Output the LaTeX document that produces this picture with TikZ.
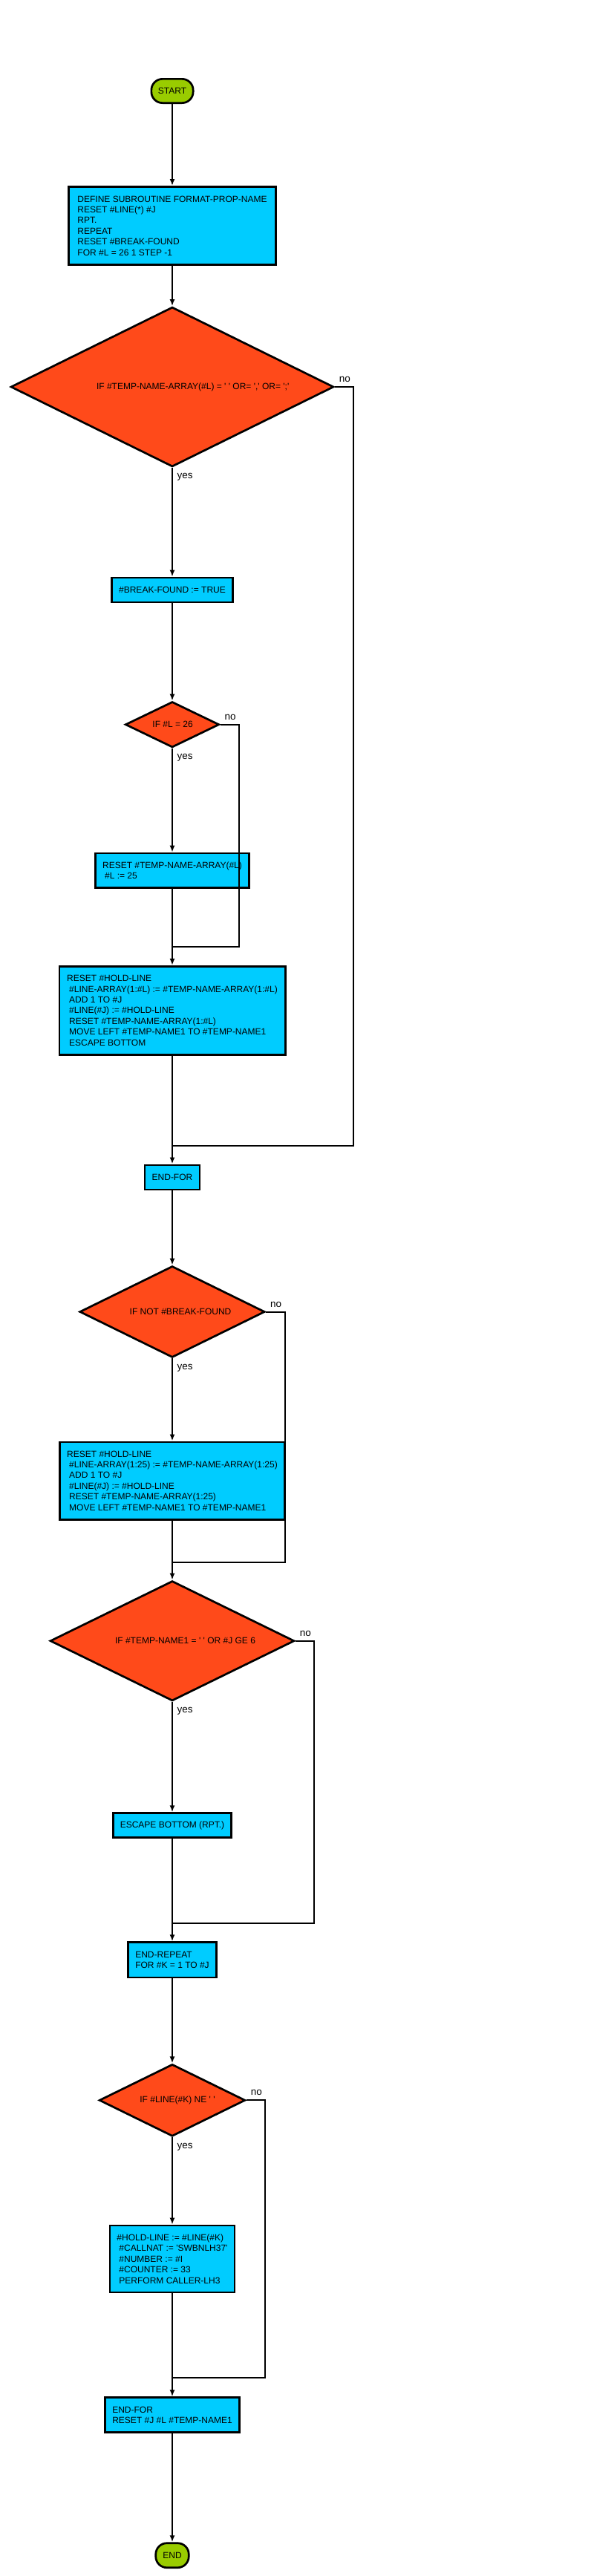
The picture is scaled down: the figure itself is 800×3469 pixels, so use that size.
\documentclass[tikz,border=0pt]{standalone}
\usepackage{fontspec}
\setmainfont{Liberation Sans}
\usepackage{tikz}
\usetikzlibrary{positioning}
\usetikzlibrary{shapes}
\usetikzlibrary{arrows.meta}

\definecolor{termgreen}{HTML}{99CC00}
\definecolor{boxcyan}{HTML}{00CCFF}
\definecolor{testred}{HTML}{FF4A1A}

\tikzstyle{line} = [draw, line width=2pt, -{Latex[length=9pt,width=7pt]}]
\tikzstyle{wire} = [draw, line width=2pt]
\tikzstyle{term} = [rectangle, rounded corners=15pt, draw, line width=2.7pt, fill=termgreen, inner sep=0pt]
\tikzstyle{stepbox} = [rectangle, draw, line width=2.7pt, fill=boxcyan, align=left, inner xsep=9.5pt, inner ysep=2pt]
\tikzstyle{test} = [diamond, draw, line width=2.7pt, fill=testred, inner sep=0pt]
\tikzstyle{dtext} = [inner sep=0pt]
\tikzstyle{yeslab} = [anchor=base west, inner sep=0pt, xshift=5.5pt, yshift=-15pt, font=\fontsize{13.5pt}{16pt}\selectfont]
\tikzstyle{nolab} = [anchor=base west, inner sep=0pt, xshift=5pt, yshift=6.5pt, font=\fontsize{13.5pt}{16pt}\selectfont]

\newcommand{\tq}{\textquotesingle}
\newcommand{\indsp}{\hspace*{3pt}}

\begin{document}
\begin{tikzpicture}[x=1pt, y=-1pt, font=\fontsize{12pt}{14.4pt}\selectfont]

	\path[use as bounding box, fill=white] (0,0) rectangle (800,3469);

	\def\cx{232}
	\def\gap{25.5}

	% nodes, top to bottom
	\node[term, minimum width=56.3pt, minimum height=32.3pt] (start) at (\cx,122.5) {START};
	\node[stepbox, minimum width=279.3pt, minimum height=105pt] (defsub) at (\cx,303.9)
		{DEFINE SUBROUTINE FORMAT-PROP-NAME\\RESET \#LINE(*) \#J\\RPT.\\REPEAT\\RESET \#BREAK-FOUND\\FOR \#L = 26 1 STEP -1};
	\node[test, minimum width=435pt, minimum height=215pt,
		label={[dtext,xshift=27.7pt]center:{IF \#TEMP-NAME-ARRAY(\#L) = \tq\ \tq\ OR= \tq,\tq\ OR= \tq;\tq}}] (d1) at (\cx,521) {};
	\node[stepbox, minimum width=163pt, minimum height=33pt] (bf) at (\cx,794.5) {\#BREAK-FOUND := TRUE};
	\node[test, minimum width=126.5pt, minimum height=61.5pt,
		label={[dtext,xshift=0.6pt]center:{IF \#L = 26}}] (d2) at (\cx,975.7) {};
	\node[stepbox, minimum width=207pt, minimum height=46.3pt] (tna) at (\cx,1172.2)
		{RESET \#TEMP-NAME-ARRAY(\#L)\\\indsp\#L := 25};
	\node[stepbox, minimum width=304.3pt, minimum height=119pt] (hold1) at (\cx,1360.8)
		{RESET \#HOLD-LINE\\\indsp\#LINE-ARRAY(1:\#L) := \#TEMP-NAME-ARRAY(1:\#L)\\\indsp ADD 1 TO \#J\\\indsp\#LINE(\#J) := \#HOLD-LINE\\\indsp RESET \#TEMP-NAME-ARRAY(1:\#L)\\\indsp MOVE LEFT \#TEMP-NAME1 TO \#TEMP-NAME1\\\indsp ESCAPE BOTTOM};
	\node[stepbox, minimum width=73.8pt, minimum height=33.1pt] (endfor1) at (\cx,1585.4) {END-FOR};
	\node[test, minimum width=249.5pt, minimum height=123pt,
		label={[dtext,xshift=11pt]center:{IF NOT \#BREAK-FOUND}}] (d3) at (\cx,1766.5) {};
	\node[stepbox, minimum width=303.3pt, minimum height=104.3pt] (hold2) at (\cx,1994)
		{RESET \#HOLD-LINE\\\indsp\#LINE-ARRAY(1:25) := \#TEMP-NAME-ARRAY(1:25)\\\indsp ADD 1 TO \#J\\\indsp\#LINE(\#J) := \#HOLD-LINE\\\indsp RESET \#TEMP-NAME-ARRAY(1:25)\\\indsp MOVE LEFT \#TEMP-NAME1 TO \#TEMP-NAME1};
	\node[test, minimum width=329pt, minimum height=161.5pt,
		label={[dtext,xshift=17.5pt]center:{IF \#TEMP-NAME1 = \tq\ \tq\ OR \#J GE 6}}] (d4) at (\cx,2209.7) {};
	\node[stepbox, minimum width=159.3pt, minimum height=33pt] (esc) at (\cx,2458.2) {ESCAPE BOTTOM (RPT.)};
	\node[stepbox, minimum width=119pt, minimum height=47.3pt] (endrep) at (\cx,2639.3)
		{END-REPEAT\\FOR \#K = 1 TO \#J};
	\node[test, minimum width=196.8pt, minimum height=97pt,
		label={[dtext,xshift=7pt]center:{IF \#LINE(\#K) NE \tq\ \tq}}] (d5) at (\cx,2828.3) {};
	\node[stepbox, minimum width=168pt, minimum height=90pt] (call) at (\cx,3042)
		{\#HOLD-LINE := \#LINE(\#K)\\\indsp\#CALLNAT := \tq SWBNLH37\tq\\\indsp\#NUMBER := \#I\\\indsp\#COUNTER := 33\\\indsp PERFORM CALLER-LH3};
	\node[stepbox, minimum width=181pt, minimum height=47pt] (endfor2) at (\cx,3252.2)
		{END-FOR\\RESET \#J \#L \#TEMP-NAME1};
	\node[term, minimum width=44.5pt, minimum height=33pt] (stop) at (\cx,3441.2) {END};

	% merge points
	\coordinate (mA) at (\cx,1275);
	\coordinate (m1) at (\cx,1543);
	\coordinate (m3) at (\cx,2104.2);
	\coordinate (m4) at (\cx,2590);
	\coordinate (m5) at (\cx,3202.3);

	% connectors
	\path[line] (start) -- (defsub);
	\path[line] (defsub) -- (d1);
	\path[line] (d1.south) node[yeslab]{yes} -- (bf);
	\path[wire] (d1.east) node[nolab]{no} -- ++(\gap,0) |- (m1);
	\path[line] (bf) -- (d2);
	\path[line] (d2.south) node[yeslab]{yes} -- (tna);
	\path[wire] (d2.east) node[nolab]{no} -- ++(\gap,0) |- (mA);
	\path[wire] (tna) -- (mA);
	\path[line] (mA) -- (hold1);
	\path[wire] (hold1) -- (m1);
	\path[line] (m1) -- (endfor1);
	\path[line] (endfor1) -- (d3);
	\path[line] (d3.south) node[yeslab]{yes} -- (hold2);
	\path[wire] (d3.east) node[nolab]{no} -- ++(\gap,0) |- (m3);
	\path[wire] (hold2) -- (m3);
	\path[line] (m3) -- (d4);
	\path[line] (d4.south) node[yeslab]{yes} -- (esc);
	\path[wire] (d4.east) node[nolab]{no} -- ++(\gap,0) |- (m4);
	\path[wire] (esc) -- (m4);
	\path[line] (m4) -- (endrep);
	\path[line] (endrep) -- (d5);
	\path[line] (d5.south) node[yeslab]{yes} -- (call);
	\path[wire] (d5.east) node[nolab]{no} -- ++(\gap,0) |- (m5);
	\path[wire] (call) -- (m5);
	\path[line] (m5) -- (endfor2);
	\path[line] (endfor2) -- (stop);

\end{tikzpicture}
\end{document}
